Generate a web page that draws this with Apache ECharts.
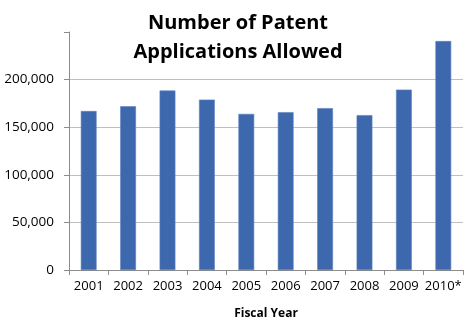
<!DOCTYPE html>
<html>
<head>
<meta charset="utf-8">
<script src="https://cdn.jsdelivr.net/npm/echarts@6/dist/echarts.min.js"></script>
<style>
  html, body { margin: 0; padding: 0; background: #fff; }
  #chart { width: 476px; height: 331px; }
</style>
</head>
<body>
<div id="chart"></div>
<script>
// Patent applications allowed per fiscal year
const years = ['2001', '2002', '2003', '2004', '2005', '2006', '2007', '2008', '2009', '2010*'];
const allowed = [167000, 172000, 188500, 179000, 164000, 165800, 170000, 162700, 189500, 240500];
const yTicks = [0, 50000, 100000, 150000, 200000, 250000];

const FONT = '"Open Sans", "Liberation Sans", sans-serif';
const chart = echarts.init(document.getElementById('chart'), null, { renderer: 'canvas' });

const gridColor = '#bfbfbf';
// last split line (top of the scale) stays invisible
const splitColors = yTicks.map((v, i) => (i === yTicks.length - 1 ? 'rgba(0,0,0,0)' : gridColor));

chart.setOption({
  animation: false,
  backgroundColor: '#ffffff',
  title: {
    text: 'Number of Patent\nApplications Allowed',
    left: 'center',
    top: 4,
    textStyle: {
      fontFamily: FONT,
      fontWeight: 'bold',
      fontSize: 20,
      lineHeight: 29,
      color: '#000000'
    }
  },
  grid: { left: 69, right: 13, top: 32, bottom: 61, containLabel: false },
  xAxis: {
    type: 'category',
    data: years,
    name: 'Fiscal Year',
    nameLocation: 'middle',
    nameGap: 38,
    nameTextStyle: { fontFamily: FONT, fontWeight: 'bold', fontSize: 12, color: '#000' },
    axisLine: { show: true, lineStyle: { color: '#8c8c8c', width: 1 } },
    axisTick: { show: true, length: 5, lineStyle: { color: '#8c8c8c' } },
    axisLabel: { fontFamily: FONT, fontSize: 13, color: '#000', margin: 10, interval: 0 }
  },
  yAxis: {
    type: 'value',
    min: yTicks[0],
    max: yTicks[yTicks.length - 1],
    interval: yTicks[1] - yTicks[0],
    axisLine: { show: true, lineStyle: { color: '#8c8c8c', width: 1 } },
    axisTick: { show: true, length: 5, lineStyle: { color: '#8c8c8c' } },
    axisLabel: {
      fontFamily: FONT, fontSize: 13.5, color: '#000', margin: 15,
      formatter: v => (v === yTicks[yTicks.length - 1] ? '' : v.toLocaleString('en-US'))
    },
    splitLine: { show: true, lineStyle: { color: splitColors, width: 1 } }
  },
  series: [{
    type: 'bar',
    data: allowed,
    barWidth: '40%',
    itemStyle: { color: '#3e68ae', borderColor: '#5a80bf', borderWidth: 0.6 }
  }]
});
</script>
</body>
</html>
